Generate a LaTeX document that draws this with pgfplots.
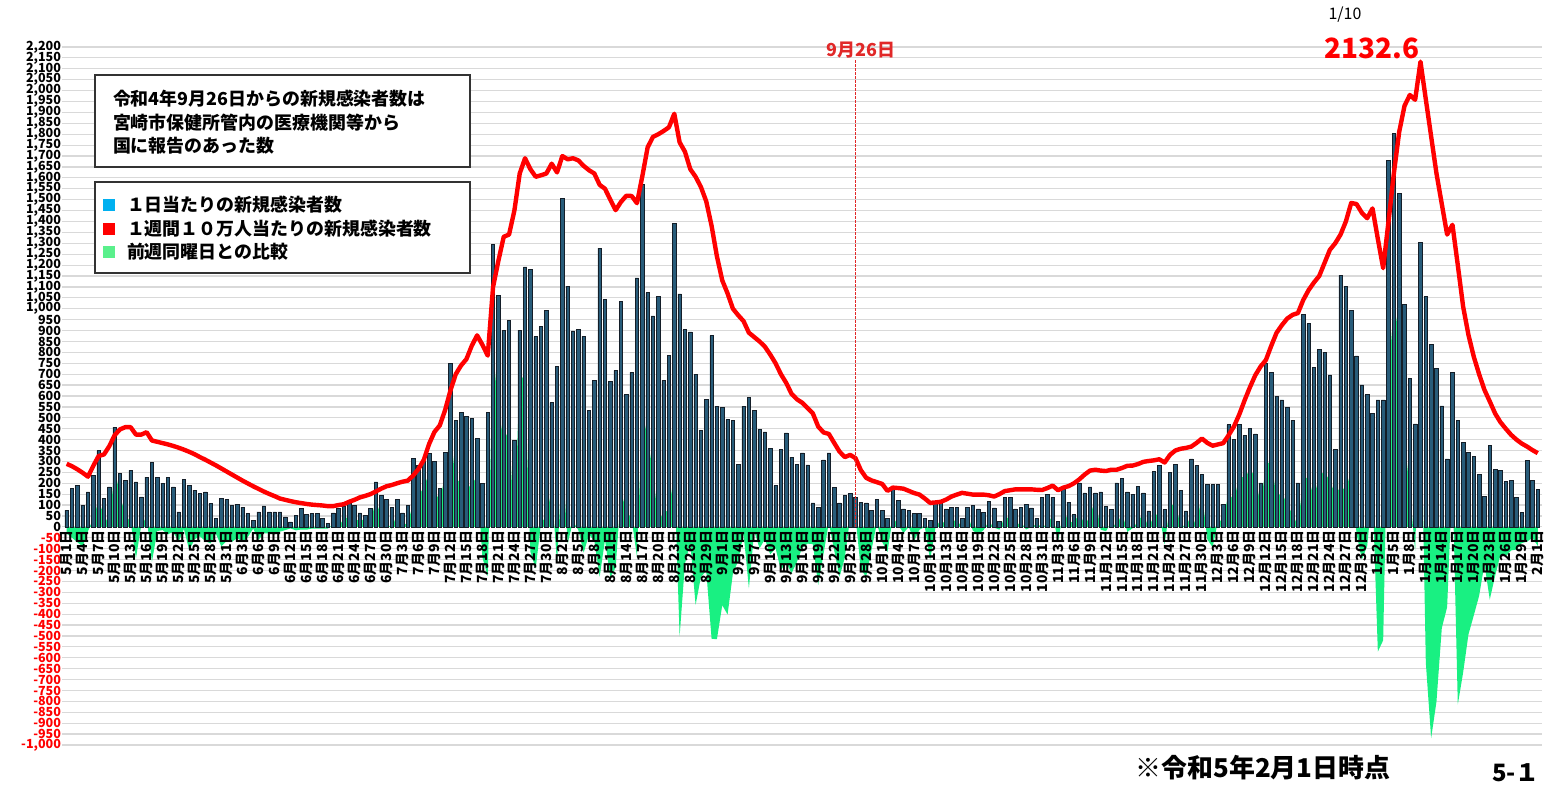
\documentclass[border=0pt]{standalone}
\usepackage{pgfplots}
\usepackage{pgfplotstable}
\pgfplotsset{compat=1.18}
\usepackage{fontspec}
\setmainfont{Noto Sans CJK JP}
\definecolor{barfill}{RGB}{40,92,122}
\definecolor{bardraw}{RGB}{20,30,40}
\definecolor{grn}{RGB}{25,240,130}
\definecolor{legblue}{RGB}{0,176,240}
\definecolor{leggreen}{RGB}{90,240,140}
\definecolor{datered}{RGB}{225,40,40}
\pgfplotsset{
  chartframe/.style={
    at={(31.2bp,21bp)}, anchor=south west,
    scale only axis, width=739.8bp, height=349bp,
    xmin=-0.8, xmax=276.8, ymin=-1000, ymax=2200,
    axis x line*=middle, axis y line*=left,
    axis line style={draw=none},
    hide obscured x ticks=false,
    major tick length=0pt,
    ytick={-1000,-950,...,2200},
    xtick={0,3,...,276},
    clip=false,
  }
}
\pgfplotstableread{
i b r g
0 76 289 -30
1 175 278 -50
2 190 264 -70
3 99 248 -90
4 160 230 -20
5 236 280 40
6 350 325 120
7 129 332 53
8 183 370 8
9 457 420 267
10 244 447 145
11 213 457 53
12 259 457 23
13 206 423 -144
14 137 423 8
15 228 434 45
16 297 396 -160
17 225 390 -19
18 198 384 -15
19 225 378 -34
20 183 371 -23
21 69 363 -68
22 218 354 -10
23 190 344 -107
24 168 333 -57
25 155 320 -43
26 160 308 -65
27 107 295 -76
28 38 282 -31
29 129 268 -89
30 125 254 -65
31 99 240 -69
32 104 226 -51
33 91 212 -69
34 61 199 -46
35 30 186 -8
36 69 174 -60
37 96 162 -29
38 69 151 -30
39 69 141 -35
40 69 130 -22
41 46 124 -15
42 23 118 -7
43 53 113 -16
44 84 109 -12
45 56 105 -13
46 61 102 -8
47 61 100 -8
48 38 98 -8
49 15 95 -8
50 64 95 11
51 84 100 0
52 94 104 38
53 107 115 46
54 99 124 38
55 64 135 26
56 53 142 38
57 84 150 20
58 206 162 122
59 143 175 49
60 125 186 18
61 91 192 -8
62 126 200 62
63 64 207 11
64 99 212 15
65 315 235 109
66 280 265 137
67 310 307 185
68 335 380 244
69 300 435 174
70 177 465 113
71 340 535 241
72 750 625 435
73 487 700 207
74 525 740 215
75 505 769 170
76 498 830 198
77 406 878 229
78 200 835 -140
79 524 785 -226
80 1295 1100 808
81 1063 1220 538
82 899 1330 394
83 945 1340 447
84 395 1450 -11
85 902 1620 702
86 1192 1690 668
87 1181 1640 -114
88 872 1605 -191
89 920 1612 21
90 991 1620 46
91 569 1665 174
92 736 1625 -166
93 1507 1700 315
94 1104 1685 -77
95 898 1690 26
96 905 1680 -15
97 873 1655 -118
98 533 1635 -36
99 672 1620 -64
100 1278 1568 -229
101 1044 1550 -60
102 667 1500 -231
103 718 1452 -187
104 1032 1490 159
105 608 1518 75
106 708 1517 36
107 1141 1484 -137
108 1570 1607 526
109 1074 1740 407
110 967 1788 249
111 1058 1800 26
112 672 1815 64
113 787 1832 79
114 1390 1894 249
115 1068 1763 -502
116 905 1720 -169
117 894 1640 -73
118 700 1605 -358
119 443 1558 -229
120 585 1492 -202
121 877 1380 -513
122 553 1240 -515
123 546 1130 -359
124 492 1070 -402
125 487 1000 -213
126 287 970 -156
127 554 943 -31
128 595 890 -282
129 533 870 -20
130 448 850 -98
131 435 826 -57
132 361 790 -126
133 189 750 -98
134 356 700 -198
135 431 660 -164
136 320 610 -213
137 287 585 -161
138 339 569 -96
139 284 545 -77
140 110 520 -79
141 90 460 -266
142 307 433 -124
143 339 426 19
144 180 385 -107
145 110 345 -229
146 143 320 -141
147 153 330 43
148 136 315 46
149 112 260 -195
150 110 225 -229
151 74 213 -106
152 126 205 16
153 74 197 -69
154 38 165 -115
155 180 180 44
156 120 178 8
157 82 175 -28
158 74 165 0
159 61 155 -65
160 61 148 -13
161 38 130 0
162 28 110 -152
163 115 112 -5
164 115 115 33
165 82 125 8
166 90 139 29
167 90 148 29
168 38 156 0
169 90 152 62
170 98 148 -17
171 82 148 -33
172 66 148 -16
173 115 145 25
174 87 139 -3
175 25 150 -13
176 136 164 46
177 136 168 38
178 82 172 0
179 90 172 24
180 103 172 -12
181 87 172 0
182 38 170 13
183 136 169 0
184 148 178 12
185 135 189 53
186 25 168 -65
187 173 180 70
188 114 187 27
189 56 200 18
190 202 218 66
191 156 240 8
192 183 258 48
193 156 262 131
194 160 258 -13
195 94 256 -20
196 79 262 23
197 202 262 0
198 223 270 67
199 160 280 -23
200 150 281 -6
201 185 288 25
202 156 298 62
203 73 302 -6
204 256 305 54
205 281 310 58
206 79 295 -81
207 250 330 100
208 287 350 102
209 166 358 10
210 73 362 0
211 312 368 56
212 281 385 0
213 239 405 160
214 193 385 -57
215 193 372 -94
216 193 378 27
217 104 384 31
218 468 420 156
219 401 460 120
220 468 515 229
221 420 580 227
222 453 640 260
223 426 695 233
224 202 735 98
225 749 765 281
226 707 830 306
227 599 890 131
228 582 925 162
229 547 955 94
230 489 972 63
231 202 980 0
232 973 1040 224
233 932 1085 225
234 732 1120 133
235 815 1150 233
236 801 1210 254
237 697 1270 208
238 354 1300 152
239 1154 1340 181
240 1102 1400 170
241 992 1485 260
242 784 1480 -31
243 651 1440 -150
244 609 1415 -88
245 520 1460 166
246 582 1320 -572
247 582 1186 -520
248 1679 1400 687
249 1805 1620 1021
250 1529 1810 878
251 1019 1930 410
252 680 1980 160
253 472 1958 -110
254 1304 2132.6 722
255 1057 1960 -622
256 836 1790 -969
257 728 1620 -801
258 555 1480 -464
259 312 1340 -368
260 707 1385 235
261 489 1200 -815
262 389 1010 -668
263 343 880 -493
264 322 780 -406
265 239 700 -316
266 141 628 -171
267 374 575 -333
268 264 520 -225
269 260 480 -129
270 208 450 -135
271 214 422 -108
272 135 400 -104
273 67 382 -74
274 306 368 -68
275 214 352 -50
276 173 338 -87
}\datatable
\begin{document}
\begin{tikzpicture}
\path[use as bounding box] (0,0) rectangle (773.5bp,393.5bp);
% data axis with grid, no tick labels
\begin{axis}[
  chartframe,
  ymajorgrids, grid style={black!15, line width=0.6bp},
  xticklabels={}, yticklabels={},
]
\addplot[fill=grn, draw=none] table[x=i,y=g]{\datatable} \closedcycle;
\addplot[ybar, bar width=0.65, fill=barfill, draw=bardraw, line width=0.3pt] table[x=i,y=b]{\datatable};
\addplot[red, line width=2.2bp, line join=round] table[x=i,y=r]{\datatable};
\draw[datered, dash pattern=on 1.2bp off 0.8bp, line width=0.6bp] (axis cs:148,0) -- (axis cs:148,2140);
\end{axis}
% overlay axis carrying the tick labels on top
\begin{axis}[
  chartframe,
  /pgf/number format/assume math mode=true,
  yticklabel={\ifdim\tick pt<-1pt\textcolor{red}{\pgfmathprintnumber{\tick}}\else\pgfmathprintnumber{\tick}\fi},
  yticklabel style={font=\fontsize{6.3}{6.3}\selectfont\bfseries, inner sep=0.5pt},
  xticklabels={5月1日,5月4日,5月7日,5月10日,5月13日,5月16日,5月19日,5月22日,5月25日,5月28日,5月31日,6月3日,6月6日,6月9日,6月12日,6月15日,6月18日,6月21日,6月24日,6月27日,6月30日,7月3日,7月6日,7月9日,7月12日,7月15日,7月18日,7月21日,7月24日,7月27日,7月30日,8月2日,8月5日,8月8日,8月11日,8月14日,8月17日,8月20日,8月23日,8月26日,8月29日,9月1日,9月4日,9月7日,9月10日,9月13日,9月16日,9月19日,9月22日,9月25日,9月28日,10月1日,10月4日,10月7日,10月10日,10月13日,10月16日,10月19日,10月22日,10月25日,10月28日,10月31日,11月3日,11月6日,11月9日,11月12日,11月15日,11月18日,11月21日,11月24日,11月27日,11月30日,12月3日,12月6日,12月9日,12月12日,12月15日,12月18日,12月21日,12月24日,12月27日,12月30日,1月2日,1月5日,1月8日,1月11日,1月14日,1月17日,1月20日,1月23日,1月26日,1月29日,2月1日},
  xticklabel style={rotate=90, anchor=east, font=\fontsize{7}{7}\selectfont\bfseries, inner sep=1.5pt},
]
\end{axis}
% note box
\draw[black!80, line width=0.8bp, fill=white] (47.5bp,310bp) rectangle (235bp,356bp);
\node[anchor=west, font=\fontsize{9}{9}\selectfont\bfseries] at (53bp,344bp) {令和4年9月26日からの新規感染者数は};
\node[anchor=west, font=\fontsize{9}{9}\selectfont\bfseries] at (53bp,332bp) {宮崎市保健所管内の医療機関等から};
\node[anchor=west, font=\fontsize{9}{9}\selectfont\bfseries] at (53bp,320.5bp) {国に報告のあった数};
% legend box
\draw[black!80, line width=0.8bp, fill=white] (47.5bp,257bp) rectangle (235bp,302.5bp);
\fill[legblue] (51.5bp,288bp) rectangle (57.5bp,294bp);
\fill[red] (51.5bp,276bp) rectangle (57.5bp,282bp);
\fill[leggreen] (51.5bp,264.5bp) rectangle (57.5bp,270.5bp);
\node[anchor=west, font=\fontsize{9}{9}\selectfont\bfseries] at (60bp,291bp) {１日当たりの新規感染者数};
\node[anchor=west, font=\fontsize{9}{9}\selectfont\bfseries] at (60bp,279bp) {１週間１０万人当たりの新規感染者数};
\node[anchor=west, font=\fontsize{9}{9}\selectfont\bfseries] at (60bp,267.5bp) {前週同曜日との比較};
% annotations
\node[font=\fontsize{9}{9}\selectfont\bfseries, text=datered] at (430.5bp,368.5bp) {9月26日};
\node[font=\fontsize{8}{8}\selectfont] at (672.5bp,386bp) {1/10};
\node[font=\fontsize{14}{14}\selectfont\bfseries, text=red] at (686bp,369.5bp) {2132.6};
\node[font=\fontsize{13}{13}\selectfont\bfseries] at (631.5bp,9.5bp) {※令和5年2月1日時点};
\node[font=\fontsize{12}{12}\selectfont\bfseries] at (758bp,7bp) {5-１};
\end{tikzpicture}
\end{document}
